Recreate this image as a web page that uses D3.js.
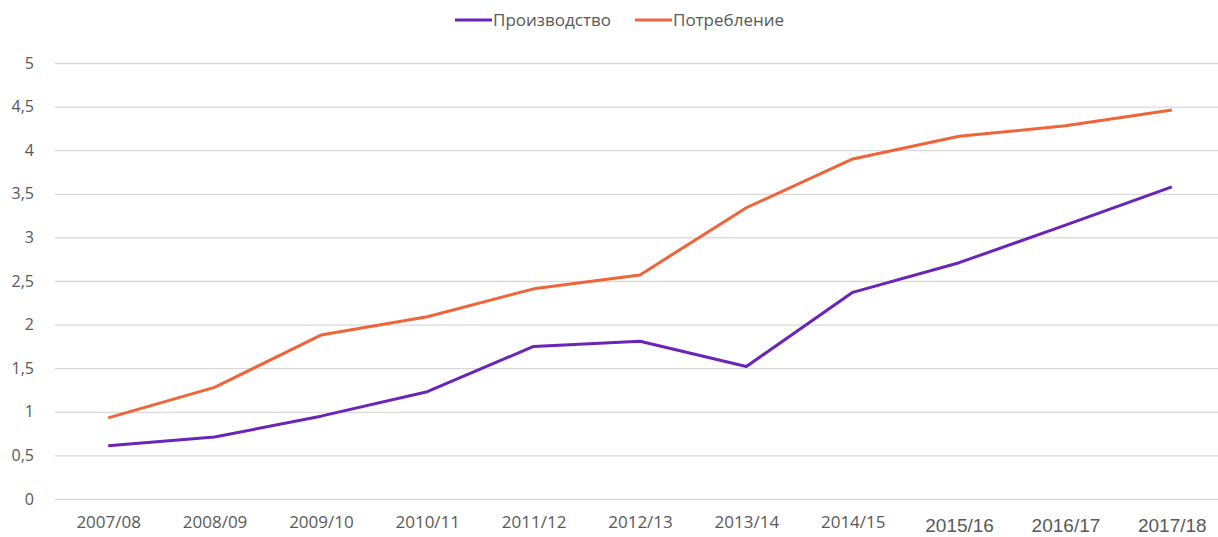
<!DOCTYPE html>
<html>
<head>
<meta charset="utf-8">
<script src="https://cdn.jsdelivr.net/npm/d3@7"></script>
<style>
  body { margin: 0; background: #fff; }
  .axis text { fill: #595959; font-family: 'Open Sans', 'Noto Sans', sans-serif; font-size: 16px; }
  .x-axis text { font-size: 17px; }
  .narrow { font-family: 'Liberation Sans Narrow', 'Arial Narrow', 'Liberation Sans', sans-serif !important; font-size: 19px !important; }
</style>
</head>
<body>
<div id="chart"></div>
<script>
const seasons = ['2007/08', '2008/09', '2009/10', '2010/11', '2011/12', '2012/13',
  '2013/14', '2014/15', '2015/16', '2016/17', '2017/18']
const production = [0.61, 0.71, 0.95, 1.23, 1.75, 1.81, 1.52, 2.37, 2.71, 3.14, 3.58]
const consumption = [0.93, 1.28, 1.88, 2.09, 2.41, 2.57, 3.34, 3.90, 4.16, 4.28, 4.46]
const yTicks = [0, 0.5, 1, 1.5, 2, 2.5, 3, 3.5, 4, 4.5, 5]
const seriesNames = ['Производство', 'Потребление']
const colors = ['#6a24b8', '#f0643a']

const margin = { top: 63, left: 55, right: -7, bottom: 38 }
const width = 1218 - margin.left - margin.right
const height = 537 - margin.top - margin.bottom

const svg = d3
  .select('#chart')
  .append('svg')
  .attr('width', 1218)
  .attr('height', 537)
  .append('g')
  .attr('transform', 'translate(' + margin.left + ',' + margin.top + ')')

const xPositionScale = d3
  .scalePoint()
  .domain(seasons)
  .range([0, width])
  .padding(0.5)
const yPositionScale = d3
  .scaleLinear()
  .domain([0, 5])
  .range([height, 0])

const yAxis = d3
  .axisLeft(yPositionScale)
  .tickValues(yTicks)
  .tickSize(-width)
  .tickPadding(21)
  .tickFormat(d => String(d).replace('.', ','))
svg
  .append('g')
  .attr('class', 'axis y-axis')
  .call(yAxis)
svg.selectAll('.y-axis path').remove()
svg.selectAll('.y-axis line').attr('stroke', '#d9d9d9').attr('stroke-width', 1.3)

const xAxis = d3.axisBottom(xPositionScale).tickSize(0).tickPadding(17)
svg
  .append('g')
  .attr('class', 'axis x-axis')
  .attr('transform', 'translate(0,' + height + ')')
  .call(xAxis)
svg.selectAll('.x-axis path').remove()
svg
  .selectAll('.x-axis text')
  .filter((d, i) => i >= 8)
  .attr('class', 'narrow')
  .attr('dy', '0.86em')

const line = d3
  .line()
  .x((d, i) => xPositionScale(seasons[i]))
  .y(d => yPositionScale(d))

;[production, consumption].forEach((values, i) => {
  svg
    .append('path')
    .datum(values)
    .attr('d', line)
    .attr('fill', 'none')
    .attr('stroke', colors[i])
    .attr('stroke-width', 3)
    .attr('stroke-linejoin', 'round')
})

// legend
const legend = svg.append('g').attr('transform', 'translate(0,' + (-43) + ')')
const legendX = [400, 580]
seriesNames.forEach((name, i) => {
  legend
    .append('line')
    .attr('x1', legendX[i])
    .attr('x2', legendX[i] + 37)
    .attr('y1', 0)
    .attr('y2', 0)
    .attr('stroke', colors[i])
    .attr('stroke-width', 3)
  legend
    .append('text')
    .text(name)
    .attr('x', legendX[i] + 38)
    .attr('y', 0)
    .attr('dy', '0.35em')
    .attr('fill', '#595959')
    .attr('font-family', "'Open Sans', 'Noto Sans', sans-serif")
    .attr('font-size', 17)
})
</script>
</body>
</html>
